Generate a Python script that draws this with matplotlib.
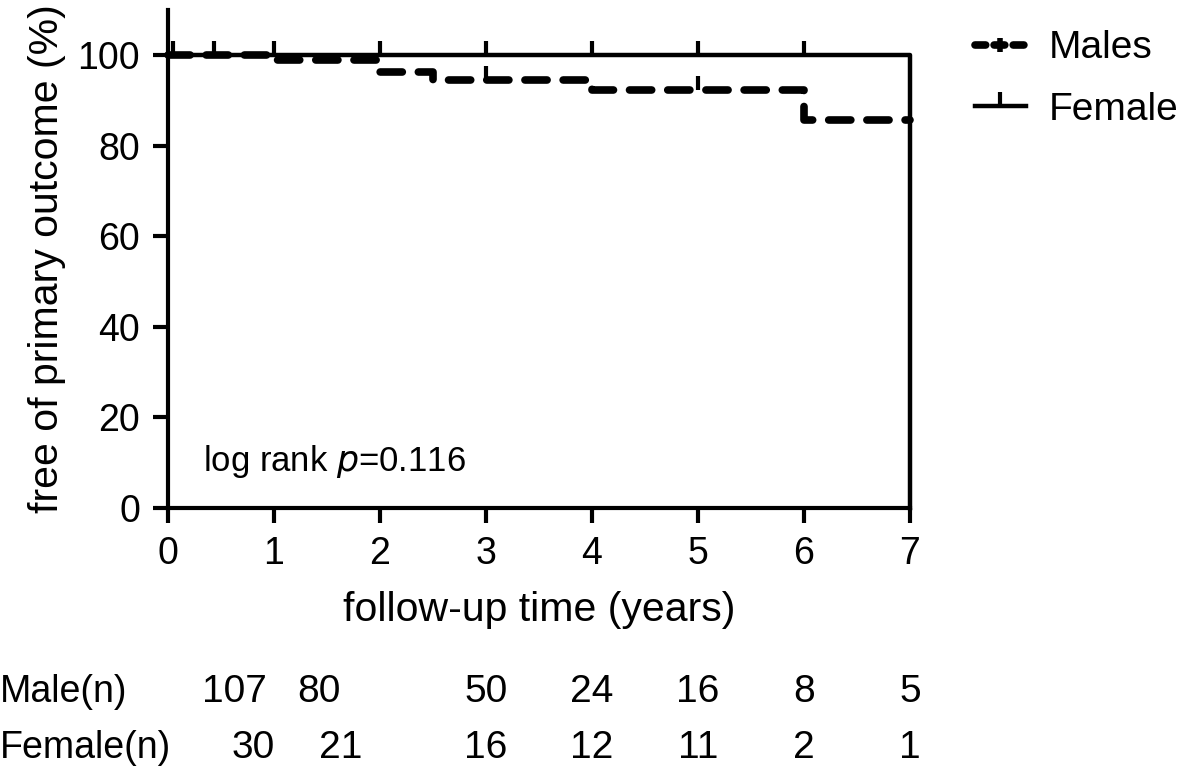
import numpy as np
import matplotlib.pyplot as plt
from matplotlib.path import Path
from matplotlib.lines import Line2D

plt.rcParams['font.family'] = ['Liberation Sans', 'DejaVu Sans']

# Kaplan-Meier steps (time in years, % free of outcome)
male_t = [0, 1.0, 2.0, 2.5, 4.0, 6.0, 7.0]
male_s = [100, 98.9, 96.3, 94.6, 92.3, 85.8, 85.8]
male_cens_t = [0.43, 3.0, 5.0]
male_cens_s = [100, 94.6, 92.3]

female_t = [0, 7.0, 7.0]
female_s = [100, 100, 0]
female_cens_t = [0.05, 1, 2, 3, 4, 5, 6]
female_cens_s = [100, 100, 100, 100, 100, 100, 100]

# number at risk table
male_n = ['107', '80', '50', '24', '16', '8', '5']
male_n_x = [0.63, 1.42, 3.0, 4.0, 5.0, 6.0, 7.0]
female_n = ['30', '21', '16', '12', '11', '2', '1']
female_n_x = [0.80, 1.63, 3.0, 4.0, 5.0, 6.0, 7.0]

up_tick = Path([(0, 0), (0, 1)], [Path.MOVETO, Path.LINETO])

fig = plt.figure(figsize=(11.81, 7.8), dpi=100)
ax = fig.add_axes([0.14225, 0.34872, 0.62828, 0.63846])

ax.step(female_t, female_s, where='post', color='k', lw=3.2, clip_on=False,
        solid_joinstyle='round', zorder=3)
ax.plot(female_cens_t, female_cens_s, ls='none', marker=up_tick, ms=20,
        mew=3, color='k', clip_on=False, zorder=3)
ax.step(male_t, male_s, where='post', color='k', lw=5.5, clip_on=False,
        dashes=(2.9, 2.1), dash_capstyle='round', zorder=4)
ax.plot(male_cens_t, male_cens_s, ls='none', marker=up_tick, ms=20,
        mew=3, color='k', clip_on=False, zorder=4)

ax.set_xlim(0, 7)
ax.set_ylim(0, 110)
ax.set_xticks(range(0, 8))
ax.set_yticks(range(0, 101, 20))
for s in ['top', 'right']:
    ax.spines[s].set_visible(False)
for s in ['left', 'bottom']:
    ax.spines[s].set_linewidth(3)
ax.tick_params(direction='out', length=11, width=3, labelsize=27, pad=9)
ax.set_xlabel('follow-up time (years)', fontsize=29.5, labelpad=14)
ax.set_ylabel('free of primary outcome (%)', fontsize=29.5, labelpad=8)

ax.text(0.33, 10.2, 'log rank $\\it{p}$=0.116', fontsize=25, va='center')

# legend
h_male = (Line2D([], [], color='k', lw=5.5, dashes=(1.4, 1.1), dash_capstyle='round'),
          Line2D([], [], ls='none', marker='|', ms=10, mew=4, color='k'))
h_female = Line2D([], [], color='k', lw=3.2, marker=up_tick, ms=20, mew=3)
ax.legend([h_male, h_female], ['Males', 'Female'], loc='upper left',
          bbox_to_anchor=(0.8125, 0.981), bbox_transform=fig.transFigure,
          frameon=False, fontsize=28, handlelength=1.3, handletextpad=0.6,
          labelspacing=0.65, borderaxespad=0)

# number at risk
fig.text(0.0, 1 - 692 / 780, 'Male(n)', fontsize=27, va='center', ha='left')
fig.text(0.0, 1 - 748 / 780, 'Female(n)', fontsize=27, va='center', ha='left')
for x, n in zip(male_n_x, male_n):
    ax.text(x, -40.6, n, fontsize=28, ha='center', va='center', clip_on=False)
for x, n in zip(female_n_x, female_n):
    ax.text(x, -53.0, n, fontsize=28, ha='center', va='center', clip_on=False)

plt.savefig('out.png', dpi=100)
